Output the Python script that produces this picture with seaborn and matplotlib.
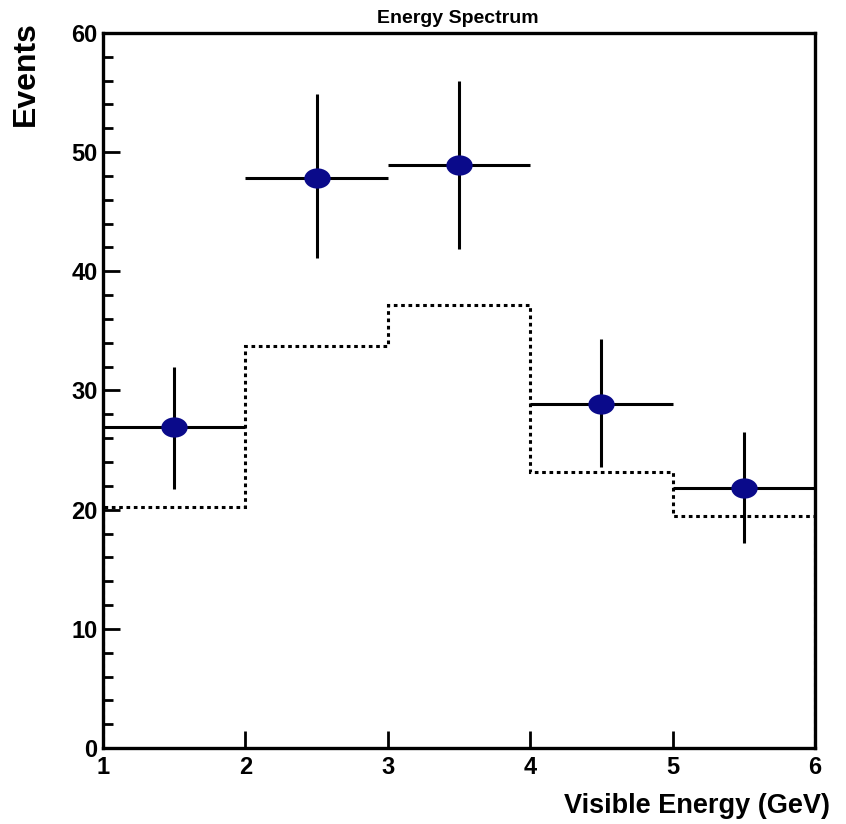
import numpy as np
import pandas as pd
import matplotlib
matplotlib.use("Agg")
import matplotlib.pyplot as plt
import seaborn as sns
from matplotlib.path import Path
from matplotlib.transforms import Affine2D
from matplotlib.ticker import MultipleLocator

# data
bin_edges = [1, 2, 3, 4, 5, 6]
bin_centers = [1.5, 2.5, 3.5, 4.5, 5.5]
events = [26.9, 47.8, 48.9, 28.9, 21.8]
err_low = [5.2, 6.7, 7.0, 5.3, 4.6]
err_high = [5.1, 7.1, 7.1, 5.4, 4.7]
expected = [20.2, 33.7, 37.2, 23.2, 19.5]

df = pd.DataFrame({"energy": bin_centers, "events": events})

sns.set_style("ticks")
plt.rcParams["font.family"] = ["Liberation Sans", "DejaVu Sans"]
plt.rcParams["font.weight"] = "bold"
plt.rcParams["text.color"] = "black"
plt.rcParams["xtick.color"] = "black"
plt.rcParams["ytick.color"] = "black"
plt.rcParams["axes.edgecolor"] = "black"

fig = plt.figure(figsize=(8.46, 8.24), dpi=100)
ax = fig.add_axes([0.1217, 0.0922, 0.8417, 0.8678])

# expected (dotted step histogram)
ax.stairs(expected, bin_edges, color="black", linestyle=(0, (1.2, 1.2)), linewidth=2.2, zorder=2)

# data with error bars
ax.errorbar(bin_centers, events, yerr=[err_low, err_high], xerr=0.5,
            fmt="none", ecolor="black", elinewidth=2.2, capsize=0, zorder=3)

ellipse = Path.unit_circle().transformed(Affine2D().scale(1.3, 1.0))
sns.scatterplot(data=df, x="energy", y="events", ax=ax, marker=ellipse,
                s=360, color="#0a0a8a", edgecolor="#0a0a8a", linewidth=0, zorder=4)

ax.set_xlim(1, 6)
ax.set_ylim(0, 60)
ax.xaxis.set_major_locator(MultipleLocator(1))
ax.yaxis.set_major_locator(MultipleLocator(10))
ax.yaxis.set_minor_locator(MultipleLocator(2))
ax.tick_params(axis="both", which="both", direction="in", top=False, right=False,
               labelsize=17, width=2, colors="black")
ax.tick_params(axis="y", which="major", length=12, pad=4)
ax.tick_params(axis="y", which="minor", length=7)
ax.tick_params(axis="x", which="major", length=12, pad=6)
for lab in ax.get_xticklabels() + ax.get_yticklabels():
    lab.set_fontweight("bold")
for sp in ax.spines.values():
    sp.set_linewidth(2.4)
    sp.set_visible(True)
    sp.set_color("black")

ax.set_xlabel("")
ax.set_ylabel("")
fig.text(0.981, 0.006, "Visible Energy (GeV)", ha="right", va="bottom",
         fontsize=19.5, fontweight="bold")
fig.text(0.013, 0.974, "Events", rotation=90, ha="left", va="top",
         fontsize=23, fontweight="bold")
fig.text(0.541, 0.977, "Energy Spectrum", ha="center", va="center",
         fontsize=14, fontweight="bold")

plt.savefig("out.png", dpi=100)
